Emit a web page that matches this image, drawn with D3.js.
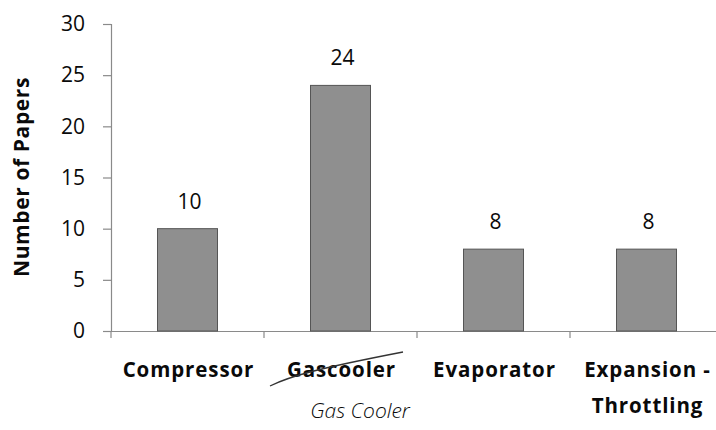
<!DOCTYPE html>
<html>
<head>
<meta charset="utf-8">
<script src="https://cdn.jsdelivr.net/npm/d3@7"></script>
<style>
  html, body { margin: 0; padding: 0; background: #fff; }
  svg { display: block; }
  text { font-family: "Open Sans", "Liberation Sans", sans-serif; fill: #0a0a0a; }
</style>
</head>
<body>
<svg id="chart" width="716" height="430"></svg>
<script>
// Papers per component
const categories = ["Compressor", "Gascooler", "Evaporator", "Expansion - Throttling"];
const paperCounts = [10, 24, 8, 8];
const yTicks = [0, 5, 10, 15, 20, 25, 30];
const categoryLines = [["Compressor"], ["Gascooler"], ["Evaporator"], ["Expansion -", "Throttling"]];

const svg = d3.select("#chart");
const plotLeft = 111, plotRight = 723, plotTop = 24, plotBottom = 331;

const x = d3.scaleBand().domain(categories).range([plotLeft, plotRight]).paddingInner(0).paddingOuter(0);
const y = d3.scaleLinear().domain([0, 30]).range([plotBottom, plotTop]);
const barW = 60;
const axisColor = "#8a8a8a";

// y axis
const yAxis = svg.append("g").attr("transform", `translate(${plotLeft},0)`)
  .call(d3.axisLeft(y).tickValues(yTicks).tickSize(8).tickPadding(18));
yAxis.select(".domain").attr("stroke", axisColor).attr("stroke-width", 1.2);
yAxis.selectAll(".tick line").attr("stroke", axisColor).attr("stroke-width", 1.2);
yAxis.selectAll(".tick text").attr("font-size", 21).attr("fill", "#0a0a0a")
  .attr("font-family", "'Open Sans', sans-serif");

// x axis
const xAxis = svg.append("g").attr("transform", `translate(0,${plotBottom})`)
  .call(d3.axisBottom(x).tickSize(0).tickFormat(""));
xAxis.select(".domain").attr("stroke", axisColor).attr("stroke-width", 1.2);
xAxis.selectAll(".tick").remove();
// category boundary ticks
svg.append("g").selectAll("line").data(categories).join("line")
  .attr("x1", d => x(d)).attr("x2", d => x(d))
  .attr("y1", plotBottom).attr("y2", plotBottom + 7)
  .attr("stroke", axisColor).attr("stroke-width", 1.2);

// bars
svg.append("g").selectAll("rect").data(paperCounts).join("rect")
  .attr("x", (d, i) => x(categories[i]) + x.bandwidth() / 2 - barW / 2)
  .attr("y", d => y(d))
  .attr("width", barW)
  .attr("height", d => y(0) - y(d))
  .attr("fill", "#8f8f8f")
  .attr("stroke", "#555")
  .attr("stroke-width", 1);

// value labels
svg.append("g").selectAll("text").data(paperCounts).join("text")
  .attr("x", (d, i) => x(categories[i]) + x.bandwidth() / 2 + 2)
  .attr("y", d => y(d) - 20)
  .attr("text-anchor", "middle")
  .attr("font-size", 21)
  .text(d => d);

// category labels
categoryLines.forEach((lines, i) => {
  const cx = x(categories[i]) + x.bandwidth() / 2 + 1;
  const t = svg.append("text")
    .attr("y", 377)
    .attr("text-anchor", "middle")
    .attr("font-size", 20.5)
    .attr("font-weight", "bold")
    .attr("letter-spacing", 0.9);
  lines.forEach((ln, j) => {
    t.append("tspan").attr("x", cx).attr("dy", j ? 36 : 0).text(ln);
  });
});

// y axis title
svg.append("text")
  .attr("transform", `translate(29,${177}) rotate(-90)`)
  .attr("text-anchor", "middle")
  .attr("font-size", 21)
  .attr("font-weight", "bold")
  .attr("letter-spacing", 0.6)
  .text("Number of Papers");

// hand-written correction: strike through and replacement name
svg.append("path")
  .attr("d", "M270,386 C290,376 320,368 403,352")
  .attr("fill", "none").attr("stroke", "#333").attr("stroke-width", 1.3);
svg.append("text")
  .attr("x", 360).attr("y", 418)
  .attr("text-anchor", "middle")
  .attr("font-size", 21)
  .attr("font-style", "italic")
  .attr("font-weight", 300)
  .attr("font-family", "'DejaVu Sans', sans-serif")
  .attr("fill", "#333")
  .text("Gas Cooler");
</script>
</body>
</html>
